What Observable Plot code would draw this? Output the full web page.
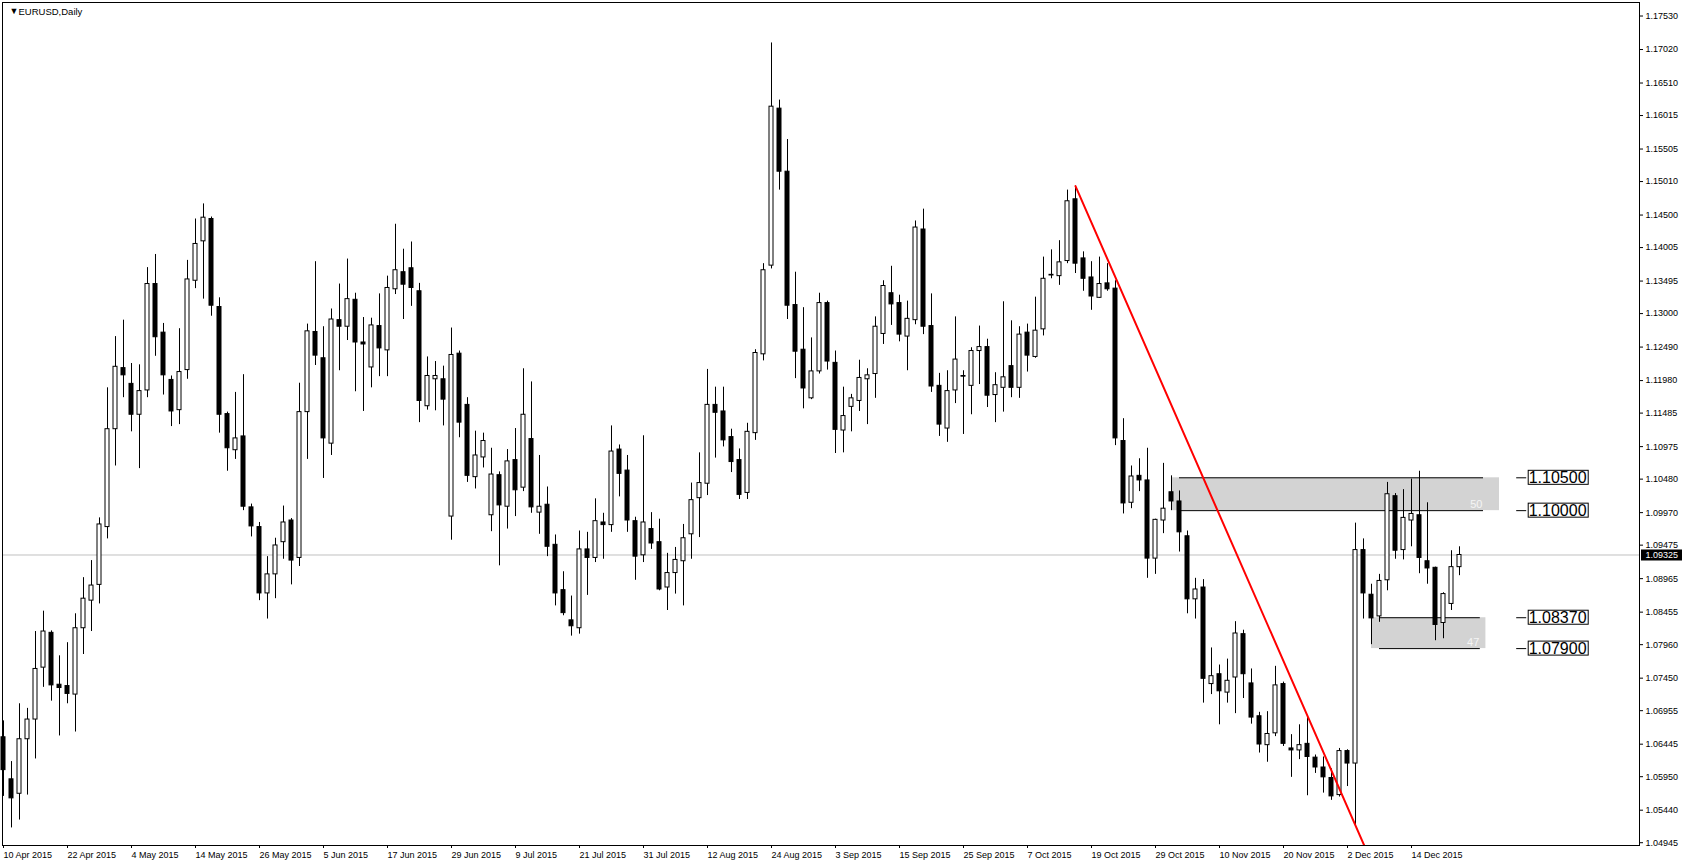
<!DOCTYPE html>
<html><head><meta charset="utf-8">
<script src="https://cdn.jsdelivr.net/npm/d3@7"></script>
<script src="https://cdn.jsdelivr.net/npm/@observablehq/plot@0.6"></script>
<style>
html,body{margin:0;padding:0;background:#fff;overflow:hidden;}
#chart svg{display:block}
</style></head><body><div id="chart"></div>
<script>
// ---- daily candles EURUSD (bar index 0 = 10 Apr 2015) ----
const opens = [1.0655,1.0591,1.0569,1.0652,1.0682,1.0761,1.0814,1.0735,1.0733,1.0720,1.0821,1.0863,1.0887,1.0975,1.1124,1.1217,1.1193,1.1146,1.1183,1.1345,1.1271,1.1199,1.1153,1.1214,1.1350,1.1410,1.1444,1.1310,1.1147,1.1092,1.1113,1.1005,1.0975,1.0874,1.0903,1.0952,1.0985,1.0928,1.1150,1.1272,1.1232,1.1102,1.1290,1.1280,1.1321,1.1256,1.1218,1.1281,1.1244,1.1337,1.1363,1.1369,1.1334,1.1159,1.1200,1.1200,1.0991,1.1239,1.1161,1.1051,1.1081,1.0993,1.1054,1.1006,1.1077,1.1035,1.1109,1.0997,1.1009,1.0948,1.0879,1.0833,1.0821,1.0941,1.0928,1.0982,1.0978,1.1093,1.1061,1.0984,1.0932,1.0972,1.0952,1.0883,1.0905,1.0923,1.0964,1.1019,1.1041,1.1161,1.1151,1.1112,1.1077,1.1027,1.1118,1.1238,1.1373,1.1612,1.1516,1.1313,1.1245,1.1171,1.1212,1.1316,1.1225,1.1122,1.1158,1.1167,1.1200,1.1208,1.1269,1.1331,1.1316,1.1265,1.1290,1.1428,1.1281,1.1190,1.1125,1.1183,1.1205,1.1190,1.1243,1.1249,1.1176,1.1187,1.1220,1.1187,1.1271,1.1234,1.1276,1.1358,1.1357,1.1380,1.1474,1.1384,1.1355,1.1324,1.1346,1.1338,1.1106,1.1012,1.1053,1.1046,1.0927,1.0985,1.1028,1.1014,1.0961,1.0865,1.0883,1.0736,1.0751,1.0723,1.0746,1.0812,1.0737,1.0687,1.0643,1.0661,1.0736,1.0638,1.0635,1.0645,1.0624,1.0609,1.0593,1.0567,1.0634,1.0615,1.0940,1.0872,1.0839,1.0894,1.1022,1.0940,1.0985,1.0993,1.0923,1.0913,1.0829,1.0858,1.0914];
const highs = [1.0680,1.0618,1.0706,1.0699,1.0816,1.0847,1.0817,1.0779,1.0799,1.0843,1.0898,1.0924,1.0989,1.1187,1.1265,1.1290,1.1224,1.1222,1.1370,1.1390,1.1285,1.1205,1.1277,1.1381,1.1444,1.1467,1.1447,1.1324,1.1150,1.1180,1.1207,1.1010,1.0982,1.0930,1.0958,1.1007,1.0988,1.1194,1.1284,1.1379,1.1280,1.1307,1.1345,1.1383,1.1331,1.1294,1.1293,1.1330,1.1357,1.1436,1.1398,1.1409,1.1346,1.1234,1.1227,1.1220,1.1278,1.1243,1.1172,1.1121,1.1118,1.1095,1.1059,1.1093,1.1125,1.1216,1.1196,1.1084,1.1036,1.0963,1.0907,1.0870,1.0969,1.0967,1.1018,1.0996,1.1129,1.1100,1.1084,1.0990,1.1114,1.0997,1.0987,1.0935,1.0944,1.0979,1.1042,1.1088,1.1215,1.1188,1.1188,1.1124,1.1094,1.1133,1.1245,1.1376,1.1712,1.1625,1.1565,1.1363,1.1309,1.1263,1.1331,1.1319,1.1243,1.1188,1.1177,1.1229,1.1216,1.1295,1.1350,1.1372,1.1328,1.1319,1.1441,1.1459,1.1330,1.1209,1.1213,1.1295,1.1213,1.1248,1.1281,1.1261,1.1210,1.1318,1.1289,1.1280,1.1284,1.1325,1.1386,1.1397,1.1411,1.1488,1.1494,1.1394,1.1379,1.1386,1.1376,1.1350,1.1140,1.1068,1.1079,1.1095,1.0987,1.1072,1.1053,1.1030,1.0969,1.0897,1.0895,1.0791,1.0765,1.0774,1.0831,1.0818,1.0759,1.0693,1.0694,1.0763,1.0739,1.0659,1.0674,1.0685,1.0628,1.0625,1.0607,1.0638,1.0636,1.0981,1.0957,1.0888,1.0903,1.1043,1.1026,1.1032,1.1048,1.1060,1.1012,1.0914,1.0875,1.0939,1.0945];
const lows = [1.0565,1.0517,1.0529,1.0567,1.0622,1.0731,1.0710,1.0657,1.0706,1.0663,1.0781,1.0816,1.0858,1.0957,1.1068,1.1172,1.1120,1.1064,1.1172,1.1235,1.1176,1.1128,1.1131,1.1200,1.1338,1.1322,1.1296,1.1118,1.1060,1.1078,1.1000,1.0960,1.0863,1.0835,1.0866,1.0926,1.0887,1.0915,1.1078,1.1221,1.1049,1.1084,1.1213,1.1259,1.1181,1.1151,1.1187,1.1204,1.1204,1.1329,1.1291,1.1311,1.1134,1.1153,1.1152,1.1129,1.0955,1.1111,1.1043,1.1033,1.1065,1.0968,1.0916,1.0972,1.0991,1.1029,1.0996,1.0964,1.0930,1.0855,1.0840,1.0809,1.0812,1.0871,1.0921,1.0926,1.0967,1.1021,1.0967,1.0894,1.0921,1.0941,1.0878,1.0848,1.0873,1.0855,1.0926,1.0959,1.1023,1.1080,1.1097,1.1058,1.1017,1.1017,1.1107,1.1228,1.1368,1.1488,1.1291,1.1201,1.1155,1.1169,1.1208,1.1214,1.1087,1.1088,1.1120,1.1151,1.1131,1.1171,1.1253,1.1282,1.1257,1.1213,1.1283,1.1268,1.1180,1.1113,1.1104,1.1163,1.1116,1.1146,1.1192,1.1157,1.1134,1.1150,1.1172,1.1171,1.1211,1.1232,1.1266,1.1353,1.1343,1.1376,1.1361,1.1334,1.1305,1.1323,1.1334,1.1099,1.0995,1.1003,1.1029,1.0897,1.0903,1.0965,1.1000,1.0937,1.0843,1.0835,1.0707,1.0720,1.0674,1.0707,1.0691,1.0714,1.0675,1.0631,1.0617,1.0656,1.0641,1.0594,1.0621,1.0566,1.0600,1.0570,1.0559,1.0564,1.0580,1.0519,1.0835,1.0796,1.0830,1.0878,1.0926,1.0925,1.0945,1.0904,1.0888,1.0802,1.0805,1.0848,1.0901];
const closes = [1.0605,1.0562,1.0652,1.0682,1.0759,1.0816,1.0734,1.0730,1.0721,1.0821,1.0866,1.0886,1.0979,1.1124,1.1219,1.1206,1.1146,1.1182,1.1345,1.1264,1.1206,1.1151,1.1211,1.1352,1.1406,1.1446,1.1312,1.1146,1.1095,1.1110,1.1006,1.0976,1.0874,1.0903,1.0947,1.0982,1.0924,1.1150,1.1273,1.1236,1.1110,1.1291,1.1280,1.1322,1.1256,1.1253,1.1282,1.1247,1.1339,1.1366,1.1344,1.1339,1.1167,1.1205,1.1205,1.1169,1.1237,1.1134,1.1053,1.1084,1.1106,1.1055,1.1008,1.1075,1.1031,1.1146,1.1005,1.1006,1.0945,1.0874,1.0844,1.0824,1.0941,1.0928,1.0984,1.0978,1.1090,1.1056,1.0985,1.0930,1.0982,1.0950,1.0880,1.0905,1.0925,1.0958,1.1016,1.1042,1.1161,1.1149,1.1107,1.1074,1.1024,1.1120,1.1240,1.1366,1.1615,1.1516,1.1312,1.1242,1.1186,1.1212,1.1316,1.1227,1.1123,1.1144,1.1171,1.1202,1.1206,1.1280,1.1342,1.1314,1.1268,1.1292,1.1431,1.1280,1.1189,1.1131,1.1182,1.1230,1.1204,1.1243,1.1249,1.1175,1.1191,1.1203,1.1187,1.1268,1.1236,1.1274,1.1353,1.1359,1.1378,1.1471,1.1376,1.1353,1.1326,1.1345,1.1337,1.1110,1.1011,1.1052,1.1046,1.0927,1.0986,1.1003,1.1014,1.0967,1.0865,1.0880,1.0744,1.0748,1.0725,1.0741,1.0813,1.0751,1.0685,1.0644,1.0660,1.0734,1.0645,1.0635,1.0643,1.0625,1.0609,1.0594,1.0565,1.0634,1.0615,1.0940,1.0874,1.0836,1.0893,1.1025,1.0939,1.0989,1.0995,1.0928,1.0912,1.0826,1.0873,1.0914,1.09325];

// ---- axes ----
const dateTickBars = [0,8,16,24,32,40,48,56,64,72,80,88,96,104,112,120,128,136,144,152,160,168,176];
const dateTickLabels = ["10 Apr 2015","22 Apr 2015","4 May 2015","14 May 2015","26 May 2015","5 Jun 2015","17 Jun 2015","29 Jun 2015","9 Jul 2015","21 Jul 2015","31 Jul 2015","12 Aug 2015","24 Aug 2015","3 Sep 2015","15 Sep 2015","25 Sep 2015","7 Oct 2015","19 Oct 2015","29 Oct 2015","10 Nov 2015","20 Nov 2015","2 Dec 2015","14 Dec 2015"];
const priceTickLabels = ["1.17530","1.17020","1.16510","1.16015","1.15505","1.15010","1.14500","1.14005","1.13495","1.13000","1.12490","1.11980","1.11485","1.10975","1.10480","1.09970","1.09475","1.08965","1.08455","1.07960","1.07450","1.06955","1.06445","1.05950","1.05440","1.04945"];
const priceTicks = priceTickLabels.map(Number);
const lastPrice = 1.09325;
const lastPriceLabel = "1.09325";

// ---- drawn objects ----
const zoneTops = [1.1050, 1.0837];
const zoneBottoms = [1.1000, 1.0790];
const zoneStartBars = [146, 171];
const zoneEndBars = [187, 185.3];
const zoneLineStartBars = [147, 172];
const zoneLineEndBars = [185, 184.6];
const zoneNotes = ["50", "47"];
const levelPrices = [1.1050, 1.1000, 1.0837, 1.0790];
const levelLabels = ["1.10500", "1.10000", "1.08370", "1.07900"];
const levelTickStart = 189.15, levelTickEnd = 190.4, levelTextBar = 190.65;
const trendBars = [134, 171];
const trendPrices = [1.1494, 1.0465];

const candles = opens.map((o, i) => ({i, open: o, high: highs[i], low: lows[i], close: closes[i]}));
const zones = zoneTops.map((t, k) => ({top: t, bottom: zoneBottoms[k], x1: zoneStartBars[k], x2: zoneEndBars[k], lx1: zoneLineStartBars[k], lx2: zoneLineEndBars[k], note: zoneNotes[k]}));
const zoneLines = zones.flatMap(z => [{y: z.top, x1: z.lx1, x2: z.lx2}, {y: z.bottom, x1: z.lx1, x2: z.lx2}]);
const levels = levelPrices.map((p, k) => ({p, label: levelLabels[k]}));
const trend = trendBars.map((b, k) => ({b, p: trendPrices[k]}));

const W = 1682, H = 866;
const chart = Plot.plot({
  width: W, height: H,
  marginLeft: 2, marginRight: 43, marginTop: 2, marginBottom: 21,
  style: {fontFamily: "'Liberation Sans', Arial, sans-serif", fontSize: "9px", background: "#fff", color: "#000"},
  x: {type: "linear", domain: [-0.125, 204.5]},
  y: {type: "linear", domain: [1.049025, 1.177359]},
  marks: [
    Plot.rect(zones, {x1: "x1", x2: "x2", y1: "bottom", y2: "top", fill: "#d3d3d3"}),
    Plot.ruleY(zoneLines, {y: "y", x1: "x1", x2: "x2", stroke: "#000"}),
    Plot.text(zones, {x: "lx2", y: "bottom", text: "note", textAnchor: "end", lineAnchor: "bottom", dy: -3, dx: -1, fill: "#f5f5f5", fontSize: 11}),
    Plot.ruleY([lastPrice], {stroke: "#c0c0c0"}),
    Plot.ruleX(candles, {x: "i", y1: "low", y2: "high", stroke: "#000"}),
    Plot.rect(candles, {x1: d => d.i - 0.25, x2: d => d.i + 0.25, y1: "open", y2: "close",
      fill: d => d.close >= d.open ? "#fff" : "#000", stroke: "#000"}),
    Plot.line(trend, {x: "b", y: "p", stroke: "#ff0000", strokeWidth: 2, clip: true}),
    Plot.ruleY(levels, {y: "p", x1: levelTickStart, x2: levelTickEnd, stroke: "#000"}),
    Plot.text(levels, {x: levelTextBar, y: "p", text: "label", textAnchor: "start", fontSize: 16, fill: "#000"}),
    Plot.frame({stroke: "#000"}),
    Plot.axisX({ticks: dateTickBars, tickFormat: d => dateTickLabels[dateTickBars.indexOf(d)], anchor: "bottom",
      tickSize: 3, tickPadding: 3, textAnchor: "start", label: null}),
    Plot.axisY({ticks: priceTicks, tickFormat: d => priceTickLabels[priceTicks.indexOf(d)], anchor: "right",
      tickSize: 3, tickPadding: 3, textAnchor: "start", label: null}),
    Plot.text([lastPriceLabel], {y: () => lastPrice, frameAnchor: "right", dx: 6, textAnchor: "start", fill: "#fff"}),
    Plot.text(["EURUSD,Daily"], {frameAnchor: "top-left", dx: 16, dy: 9, textAnchor: "start", lineAnchor: "middle", fontSize: 9.5}),
    Plot.text(["\u25BC"], {frameAnchor: "top-left", dx: 7, dy: 9, lineAnchor: "middle", fontSize: 9})
  ]
});
document.getElementById("chart").appendChild(chart);

// boxes behind label texts
const svg = chart.tagName.toLowerCase() === "svg" ? chart : chart.querySelector("svg");
const NS = "http://www.w3.org/2000/svg";
function boxBehind(t, fill, stroke, padL, padR, padT, padB) {
  const bb = t.getBBox();
  const r = document.createElementNS(NS, "rect");
  const x0 = Math.round(bb.x - padL) + 0.5, x1 = Math.round(bb.x + bb.width + padR) + 0.5;
  const y0 = Math.round(bb.y - padT) + 0.5, y1 = Math.round(bb.y + bb.height + padB) + 0.5;
  r.setAttribute("x", x0); r.setAttribute("y", y0);
  r.setAttribute("width", x1 - x0); r.setAttribute("height", y1 - y0);
  r.setAttribute("fill", fill); r.setAttribute("stroke", stroke);
  const tr = t.getAttribute("transform"); if (tr) r.setAttribute("transform", tr);
  t.parentNode.insertBefore(r, t);
}
svg.querySelectorAll("text").forEach(t => {
  const s = t.textContent;
  if (levelLabels.includes(s)) boxBehind(t, "#fff", "#000", 1, 1, -1, -2);
  else if (s === lastPriceLabel) boxBehind(t, "#000", "none", 5, 6, 1, 0);
});
</script></body></html>
